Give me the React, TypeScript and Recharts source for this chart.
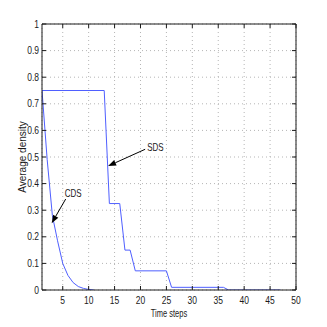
import { LineChart, Line, XAxis, YAxis, CartesianGrid, ReferenceLine, Label } from 'recharts'

// CDS: fast decay of average density
const cdsSteps = [1, 2, 3, 4, 5, 6, 7, 8, 9, 10, 11]
const cdsDensity = [0.75, 0.49, 0.28, 0.185, 0.1, 0.055, 0.028, 0.013, 0.006, 0.002, 0]

// SDS: step-wise decay (breakpoints)
const sdsSteps = [1, 13, 14, 16, 17, 18, 19, 25, 26, 36, 37, 47]
const sdsDensity = [0.75, 0.75, 0.325, 0.325, 0.15, 0.15, 0.072, 0.072, 0.01, 0.01, 0, 0]

const xTicks = [5, 10, 15, 20, 25, 30, 35, 40, 45, 50]
const yTicks = [0, 0.1, 0.2, 0.3, 0.4, 0.5, 0.6, 0.7, 0.8, 0.9, 1]

// arrow annotations: label, arrow tail, arrow tip (data coords)
const noteLabels = ['CDS', 'SDS']
const noteTails = [
  { x: 5.57, y: 0.342 },
  { x: 20.9, y: 0.529 },
]
const noteTips = [
  { x: 2.87, y: 0.251 },
  { x: 13.75, y: 0.466 },
]

const cdsData = cdsSteps.map((x, i) => ({ x, y: cdsDensity[i] }))
const sdsData = sdsSteps.map((x, i) => ({ x, y: sdsDensity[i] }))

const FONT = '"Liberation Sans", Arial, Helvetica, sans-serif'
const INK = '#1a1a1a'
const BLUE = '#4f5fff'
const textOffsets = [
  { dx: -1, dy: -2 },
  { dx: 2, dy: 2 },
]

function BottomTick(props: any) {
  const { x, y, payload } = props
  return (
    <g>
      <line x1={x} y1={y} x2={x} y2={y - 4} stroke={INK} />
      <text
        transform={`translate(${x},${y + 14}) scale(0.85,1)`}
        textAnchor="middle"
        fontSize={10}
        fontFamily={FONT}
        fill={INK}
      >
        {payload.value}
      </text>
    </g>
  )
}

function LeftTick(props: any) {
  const { x, y, payload } = props
  return (
    <g>
      <line x1={x} y1={y} x2={x + 4} y2={y} stroke={INK} />
      <text
        transform={`translate(${x - 3},${y + 3.5}) scale(0.85,1)`}
        textAnchor="end"
        fontSize={10}
        fontFamily={FONT}
        fill={INK}
      >
        {String(payload.value)}
      </text>
    </g>
  )
}

function TopTick(props: any) {
  const { x, y } = props
  return <line x1={x} y1={y} x2={x} y2={y + 4} stroke={INK} />
}

function RightTick(props: any) {
  const { x, y } = props
  return <line x1={x} y1={y} x2={x - 4} y2={y} stroke={INK} />
}

function makeArrow(i: number) {
  return (p: any) => {
    const { x1, y1, x2, y2 } = p
    const ang = Math.atan2(y2 - y1, x2 - x1)
    const len = 8
    const half = 3
    const bx = x2 - len * Math.cos(ang)
    const by = y2 - len * Math.sin(ang)
    const s = Math.sin(ang)
    const c = Math.cos(ang)
    const pts = `${x2},${y2} ${bx - half * s},${by + half * c} ${bx + half * s},${by - half * c}`
    const off = textOffsets[i]
    return (
      <g>
        <line x1={x1} y1={y1} x2={bx} y2={by} stroke="#000" strokeWidth={1} />
        <polygon points={pts} fill="#000" />
        <text
          transform={`translate(${x1 + off.dx},${y1 + off.dy}) scale(0.8,1)`}
          textAnchor="start"
          fontSize={10}
          fontFamily={FONT}
          fill={INK}
        >
          {noteLabels[i]}
        </text>
      </g>
    )
  }
}

export default function App() {
  return (
    <div style={{ position: 'absolute', left: 0, top: 0, width: 327, height: 327, background: '#fff' }}>
      <LineChart width={327} height={327} margin={{ top: 23, right: 30, bottom: 36, left: 41 }}>
        <CartesianGrid stroke="#b5b5b5" strokeDasharray="1 3" />
        <XAxis
          type="number"
          dataKey="x"
          domain={[1, 50]}
          ticks={xTicks}
          interval={0}
          height={1}
          tickSize={0}
          tickMargin={0}
          tick={<BottomTick />}
          axisLine={{ stroke: INK }}
          allowDataOverflow
        >
          <Label
            content={(lp: any) => {
              const vb = lp.viewBox
              return (
                <text
                  transform={`translate(${vb.x + vb.width / 2},${vb.y + 27}) scale(0.75,1)`}
                  textAnchor="middle"
                  fontSize={10}
                  fontFamily={FONT}
                  fill={INK}
                >
                  Time steps
                </text>
              )
            }}
          />
        </XAxis>
        <XAxis
          xAxisId="top"
          orientation="top"
          type="number"
          dataKey="x"
          domain={[1, 50]}
          ticks={xTicks}
          interval={0}
          height={1}
          tickSize={0}
          tickMargin={0}
          tick={<TopTick />}
          axisLine={{ stroke: INK }}
          allowDataOverflow
        />
        <YAxis
          type="number"
          domain={[0, 1]}
          ticks={yTicks}
          interval={0}
          width={1}
          tickSize={0}
          tickMargin={0}
          tick={<LeftTick />}
          axisLine={{ stroke: INK }}
          allowDataOverflow
        >
          <Label
            content={(lp: any) => {
              const vb = lp.viewBox
              const cx = vb.x + vb.width - 16
              const cy = vb.y + vb.height / 2
              return (
                <text
                  transform={`translate(${cx},${cy}) rotate(-90)`}
                  textAnchor="middle"
                  fontSize={10}
                  fontFamily={FONT}
                  fill={INK}
                >
                  Average density
                </text>
              )
            }}
          />
        </YAxis>
        <YAxis
          yAxisId="right"
          orientation="right"
          type="number"
          domain={[0, 1]}
          ticks={yTicks}
          interval={0}
          width={1}
          tickSize={0}
          tickMargin={0}
          tick={<RightTick />}
          axisLine={{ stroke: INK }}
          allowDataOverflow
        />
        <Line
          data={cdsData}
          dataKey="y"
          type="linear"
          stroke={BLUE}
          strokeWidth={1}
          dot={false}
          activeDot={false}
          isAnimationActive={false}
        />
        <Line
          data={sdsData}
          dataKey="y"
          type="linear"
          stroke={BLUE}
          strokeWidth={1}
          dot={false}
          activeDot={false}
          isAnimationActive={false}
        />
        {noteLabels.map((lbl, i) => (
          <ReferenceLine
            key={lbl}
            segment={[noteTails[i], noteTips[i]]}
            shape={makeArrow(i)}
            ifOverflow="visible"
          />
        ))}
      </LineChart>
    </div>
  )
}
